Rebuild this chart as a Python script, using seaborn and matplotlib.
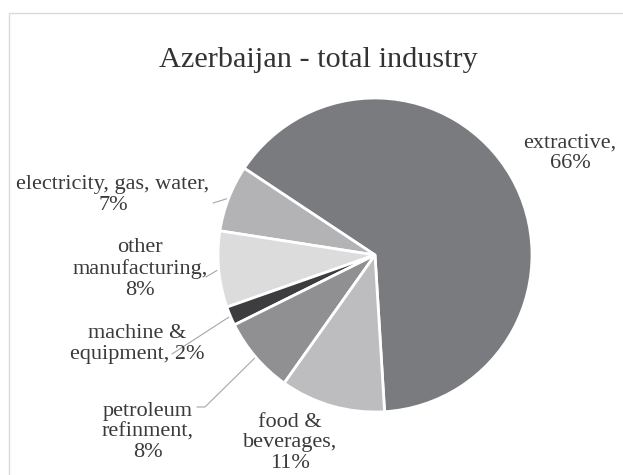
import numpy as np
import matplotlib
matplotlib.use("Agg")
import matplotlib.pyplot as plt
import seaborn as sns

# Industry structure shares (%)
sectors = ["extractive", "electricity, gas, water", "other manufacturing",
           "machine & equipment", "petroleum refinment", "food & beverages"]
shares = [66, 7, 8, 2, 8, 11]
label_texts = ["extractive,\n66%", "electricity, gas, water,\n7%",
               "other\nmanufacturing,\n8%", "machine &\nequipment, 2%",
               "petroleum\nrefinment,\n8%", "food &\nbeverages,\n11%"]
colors = ["#7a7b7f", "#b3b3b5", "#dcdcdd", "#3d3d3f", "#909093", "#bdbdbf"]

sns.set_theme(style="white")
plt.rcParams["font.family"] = ["Liberation Serif", "DejaVu Serif"]

W, H = 623, 475
fig = plt.figure(figsize=(W / 100, H / 100), dpi=100)
fig.patch.set_facecolor("white")

# thin frame around the chart area (top and left edges visible)
frame = plt.Rectangle((9 / W, -0.1), 1.2, 1 - 13 / H + 0.1, transform=fig.transFigure,
                      fill=False, edgecolor="#d9d9d9", linewidth=1.0)
fig.add_artist(frame)

cx, cy, r = 375, 255, 157
ax = fig.add_axes([(cx - r) / W, (H - cy - r) / H, 2 * r / W, 2 * r / H])
wedges, _ = ax.pie(shares, colors=colors, startangle=-86.5, counterclock=True,
                   wedgeprops=dict(edgecolor="white", linewidth=2))
ax.set_xlim(-1, 1)
ax.set_ylim(-1, 1)
ax.set_aspect("equal")
ax.axis("off")

fig.text(318 / W, 1 - 60 / H, "Azerbaijan - total industry", ha="center", va="center",
         fontsize=21.8, color="#333333")

# label centres in pixels
label_pos = [(570, 153), (113, 195), (140, 269), (137, 344), (148, 432), (290, 443)]
for txt, (px, py) in zip(label_texts, label_pos):
    fig.text(px / W, 1 - py / H, txt, ha="center", va="center", multialignment="center",
             fontsize=16, color="#3a3a3a", linespacing=1.12)

# leader lines from wedge edge to label
def px2data(px, py):
    return (px - cx) / r, (cy - py) / r

leaders = {1: [(213, 203)], 2: [(206, 277)], 3: [(172, 354)], 4: [(205, 407), (197, 407)]}
for i, pts in leaders.items():
    w = wedges[i]
    mid = np.deg2rad((w.theta1 + w.theta2) / 2)
    xs = [np.cos(mid)]
    ys = [np.sin(mid)]
    for (px, py) in pts:
        dx, dy = px2data(px, py)
        xs.append(dx)
        ys.append(dy)
    ax.plot(xs, ys, color="#a6a6a6", linewidth=0.8, clip_on=False, zorder=0)

fig.savefig("out.png", dpi=100, facecolor="white")
